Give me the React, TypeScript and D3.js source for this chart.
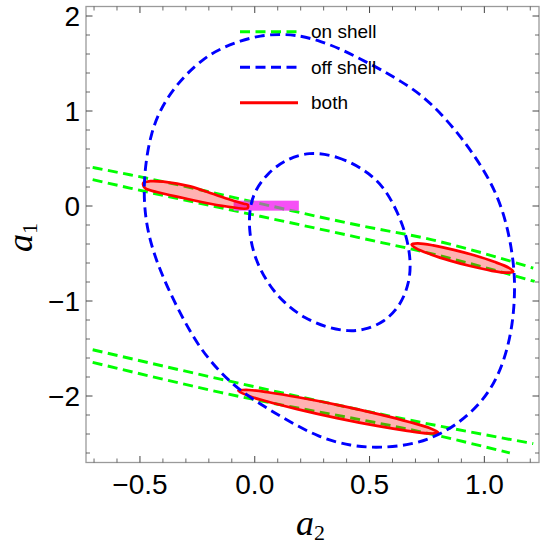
import React from 'react';
import * as d3 from 'd3';

const W = 542;
const H = 546;
const X_DOMAIN: [number, number] = [-0.735, 1.238];
const Y_DOMAIN: [number, number] = [-2.7, 2.1];

const xMajor = [-0.5, 0, 0.5, 1.0];
const xMajorLabels = ['\u22120.5', '0.0', '0.5', '1.0'];
const yMajor = [-2, -1, 0, 1, 2];
const yMajorLabels = ['\u22122', '\u22121', '0', '1', '2'];

type P = [number, number];

// off shell: big closed curve
const offShellOuter: P[] = [
  [0.112, 1.811], [0.2, 1.793], [0.287, 1.735], [0.375, 1.652], [0.462, 1.545], [0.55, 1.435],
  [0.637, 1.312], [0.725, 1.172], [0.812, 0.972], [0.901, 0.719], [0.989, 0.417],
  [1.06, 0.101], [1.104, -0.249], [1.128, -0.6], [1.134, -0.879], [1.124, -1.25], [1.089, -1.618],
  [1.031, -1.932], [0.944, -2.179], [0.827, -2.389], [0.696, -2.51], [0.55, -2.547], [0.419, -2.53],
  [0.273, -2.43], [0.142, -2.255], [0.039, -2.109], [-0.063, -1.944], [-0.15, -1.755], [-0.238, -1.5],
  [-0.311, -1.197], [-0.383, -0.846], [-0.442, -0.495], [-0.478, -0.144], [-0.486, 0.277], [-0.455, 0.78],
  [-0.391, 1.118], [-0.303, 1.382], [-0.216, 1.565], [-0.15, 1.655], [-0.063, 1.74], [0.025, 1.795],
];

// off shell: small closed curve
const offShellInner: P[] = [
  [0.236, 0.575], [0.36, 0.525], [0.472, 0.395], [0.56, 0.215], [0.622, -0.06], [0.662, -0.32],
  [0.68, -0.58], [0.674, -0.80], [0.637, -1.04], [0.564, -1.225], [0.477, -1.305], [0.411, -1.32],
  [0.317, -1.284], [0.214, -1.179], [0.127, -1.021], [0.054, -0.811], [-0.004, -0.531], [-0.026, -0.249],
  [-0.022, -0.004], [0.003, 0.172], [0.054, 0.34], [0.127, 0.48],
];

// on shell lines
const onShellA: P[] = [[-0.706, 0.406], [-0.544, 0.329], [0.462, -0.207], [0.769, -0.354], [1.213, -0.653]];
const onShellB: P[] = [[-0.706, 0.277], [-0.544, 0.189], [0.462, -0.337], [0.769, -0.502], [1.219, -0.794]];
const onShellC: P[] = [[-0.706, -1.513], [-0.15, -1.822], [0.812, -2.32], [1.213, -2.502]];
const onShellD: P[] = [[-0.706, -1.646], [-0.15, -1.962], [0.812, -2.425], [1.111, -2.6]];

// both regions
const bothLeft: P[] = [
  [-0.486, 0.242], [-0.456, 0.261], [-0.398, 0.256], [-0.281, 0.206], [-0.194, 0.137], [-0.106, 0.066],
  [-0.048, 0.024], [-0.031, 0.014], [-0.031, -0.023], [-0.106, -0.011], [-0.194, 0.024], [-0.311, 0.084],
  [-0.427, 0.147], [-0.478, 0.189],
];
const bothRight: P[] = [
  [0.6835, -0.4053], [0.7086, -0.3943], [0.7772, -0.4147], [0.8669, -0.4621], [0.9557, -0.5189],
  [1.0429, -0.5874], [1.1069, -0.6516], [1.126, -0.6916], [1.1012, -0.7021], [1.0324, -0.6821],
  [0.9427, -0.6347], [0.8538, -0.5779], [0.7667, -0.5095], [0.7029, -0.4457],
];
const bothBottom: P[] = [
  [-0.0717, -1.944], [-0.0255, -1.937], [0.0633, -1.963], [0.1949, -2.016], [0.3695, -2.098],
  [0.5433, -2.193], [0.6731, -2.273], [0.7585, -2.335], [0.7994, -2.386], [0.7532, -2.394],
  [0.6644, -2.367], [0.5328, -2.315], [0.3582, -2.233], [0.1844, -2.138], [0.0546, -2.058], [-0.0307, -1.996],
];

// magenta marker region
const markerX: [number, number] = [-0.092, 0.192];
const markerY: [number, number] = [-0.049, 0.056];

const legendLabels = ['on shell', 'off shell', 'both'];
const legendColors = ['#00ff00', '#0000ff', '#ff0000'];
const legendDashed = [true, true, false];

export default function App() {
  const left = 86, right = 539, top = 6.5, bottom = 462.5;
  const x = d3.scaleLinear().domain(X_DOMAIN).range([left, right]);
  const y = d3.scaleLinear().domain(Y_DOMAIN).range([bottom, top]);

  const smoothClosed = d3.line<P>().x(d => x(d[0])).y(d => y(d[1])).curve(d3.curveBasisClosed);
  const closed = d3.line<P>().x(d => x(d[0])).y(d => y(d[1])).curve(d3.curveCatmullRomClosed.alpha(0.5));
  const open = d3.line<P>().x(d => x(d[0])).y(d => y(d[1])).curve(d3.curveMonotoneX);

  const xMinor = d3.range(-0.7, 1.2001, 0.1).filter(v => !xMajor.some(m => Math.abs(m - v) < 1e-6));
  const yMinor = d3.range(-2.6, 2.0001, 0.2).filter(v => !yMajor.some(m => Math.abs(m - v) < 1e-6));

  const dash = '10,5.5';
  const sw = 2.9;
  const tickColor = '#444';
  const font = '"Liberation Sans", Arial, sans-serif';
  const serif = '"Liberation Serif", "Times New Roman", serif';

  return (
    <svg width={W} height={H} style={{ position: 'absolute', left: 0, top: 0 }} xmlns="http://www.w3.org/2000/svg">
      <rect x={0} y={0} width={W} height={H} fill="#fff" />
      <defs>
        <clipPath id="plotClip">
          <rect x={left} y={top} width={right - left} height={bottom - top} />
        </clipPath>
        <clipPath id="markerClip">
          <rect x={x(markerX[0])} y={y(markerY[1])} width={x(markerX[1]) - x(markerX[0])} height={y(markerY[0]) - y(markerY[1])} />
        </clipPath>
      </defs>

      <g clipPath="url(#plotClip)">
        {[onShellA, onShellB, onShellC, onShellD].map((ln, i) => (
          <path key={'g' + i} d={open(ln) || ''} fill="none" stroke="#00ff00" strokeWidth={sw} strokeDasharray={dash} />
        ))}
        <rect x={x(markerX[0])} y={y(markerY[1])} width={x(markerX[1]) - x(markerX[0])} height={y(markerY[0]) - y(markerY[1])} fill="#f550f5" />
        <path d={open(onShellA) || ''} fill="none" stroke="#8a8a8a" strokeWidth={sw} strokeDasharray={dash} clipPath="url(#markerClip)" />
        {[bothLeft, bothRight, bothBottom].map((sh, i) => (
          <path key={'r' + i} d={closed(sh) || ''} fill="rgba(255,0,0,0.3)" stroke="#ff0000" strokeWidth={2.7} strokeLinejoin="round" />
        ))}
        {[offShellOuter, offShellInner].map((sh, i) => (
          <path key={'b' + i} d={smoothClosed(sh) || ''} fill="none" stroke="#0000ff" strokeWidth={sw} strokeDasharray={dash} />
        ))}
      </g>

      {/* legend */}
      {legendLabels.map((lab, i) => {
        const ly = 31.7 + i * 35.5;
        return (
          <g key={'l' + i}>
            <line x1={240} x2={298} y1={ly} y2={ly} stroke={legendColors[i]} strokeWidth={sw}
              strokeDasharray={legendDashed[i] ? dash : undefined} />
            <text x={311} y={ly + 6.5} fontFamily={font} fontSize={19} fill="#000">{lab}</text>
          </g>
        );
      })}

      {/* frame */}
      <rect x={left} y={top} width={right - left} height={bottom - top} fill="none" stroke="#9a9a9a" strokeWidth={1.3} />

      {/* x ticks */}
      {xMajor.map(v => (
        <g key={'xm' + v}>
          <line x1={x(v)} x2={x(v)} y1={bottom} y2={bottom - 6.5} stroke={tickColor} strokeWidth={1} />
          <line x1={x(v)} x2={x(v)} y1={top} y2={top + 6.5} stroke={tickColor} strokeWidth={1} />
        </g>
      ))}
      {xMinor.map(v => (
        <g key={'xn' + v.toFixed(2)}>
          <line x1={x(v)} x2={x(v)} y1={bottom} y2={bottom - 4} stroke={tickColor} strokeWidth={0.8} />
          <line x1={x(v)} x2={x(v)} y1={top} y2={top + 4} stroke={tickColor} strokeWidth={0.8} />
        </g>
      ))}
      {yMajor.map(v => (
        <g key={'ym' + v}>
          <line x1={left} x2={left + 6.5} y1={y(v)} y2={y(v)} stroke={tickColor} strokeWidth={1} />
          <line x1={right} x2={right - 6.5} y1={y(v)} y2={y(v)} stroke={tickColor} strokeWidth={1} />
        </g>
      ))}
      {yMinor.map(v => (
        <g key={'yn' + v.toFixed(2)}>
          <line x1={left} x2={left + 4} y1={y(v)} y2={y(v)} stroke={tickColor} strokeWidth={0.8} />
          <line x1={right} x2={right - 4} y1={y(v)} y2={y(v)} stroke={tickColor} strokeWidth={0.8} />
        </g>
      ))}

      {/* tick labels */}
      {xMajor.map((v, i) => (
        <text key={'xl' + v} x={x(v)} y={494} textAnchor="middle" fontFamily={font} fontSize={28} fill="#000">{xMajorLabels[i]}</text>
      ))}
      {yMajor.map((v, i) => (
        <text key={'yl' + v} x={80} y={y(v) + 10} textAnchor="end" fontFamily={font} fontSize={28} fill="#000">{yMajorLabels[i]}</text>
      ))}

      {/* axis labels */}
      <text x={296} y={535} fontFamily={serif} fontStyle="italic" fontSize={36} fill="#000">
        a<tspan fontStyle="normal" fontSize={22} dy={5}>2</tspan>
      </text>
      <text transform="translate(32,252) rotate(-90)" fontFamily={serif} fontStyle="italic" fontSize={36} fill="#000">
        a<tspan fontStyle="normal" fontSize={22} dy={5}>1</tspan>
      </text>
    </svg>
  );
}
